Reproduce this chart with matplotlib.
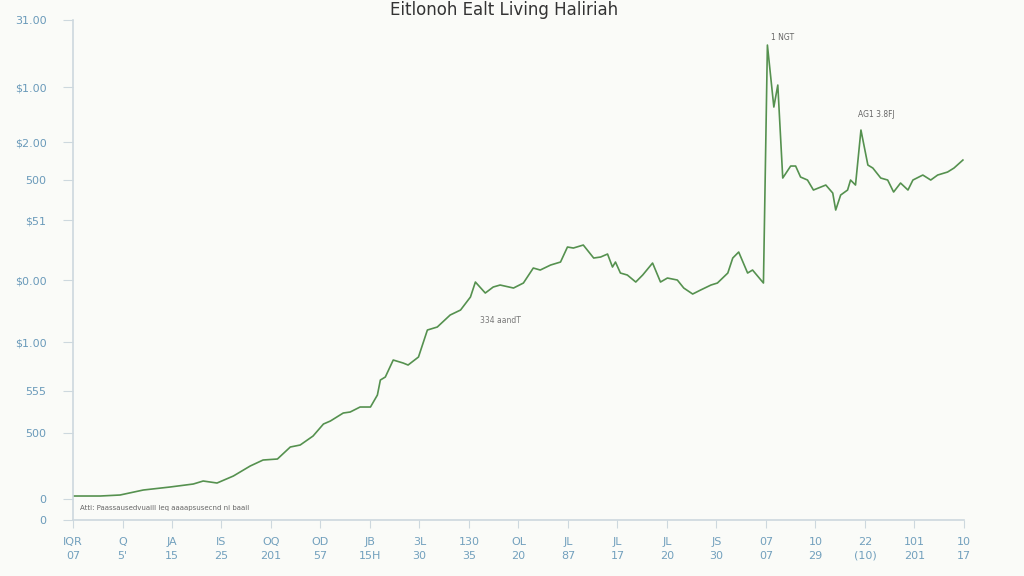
import matplotlib
matplotlib.use("Agg")
import matplotlib.pyplot as plt

# данные линии (x в делениях оси, y в условных единицах 0..500)
x = [0.00, 0.55, 0.95, 1.42, 1.96, 2.43, 2.63, 2.91, 3.24, 3.58,
     3.84, 4.13, 4.39, 4.59, 4.85, 5.06, 5.20, 5.46, 5.60, 5.80,
     6.01, 6.15, 6.21, 6.31, 6.47, 6.67, 6.77, 6.98, 7.16, 7.36,
     7.62, 7.83, 8.03, 8.13, 8.33, 8.49, 8.63, 8.90, 9.10, 9.30,
     9.44, 9.65, 9.85, 9.99, 10.11, 10.31, 10.52, 10.66, 10.80, 10.90,
     10.96, 11.06, 11.20, 11.37, 11.51, 11.71, 11.87, 12.01, 12.21, 12.34,
     12.52, 12.68, 12.89, 13.02, 13.23, 13.33, 13.45, 13.63, 13.73, 13.95,
     14.03, 14.16, 14.24, 14.34, 14.50, 14.60, 14.70, 14.84, 14.96, 15.11,
     15.21, 15.35, 15.41, 15.51, 15.65, 15.71, 15.81, 15.92, 16.06, 16.16,
     16.32, 16.46, 16.58, 16.72, 16.87, 16.97, 17.17, 17.33, 17.47, 17.67,
     17.80, 17.98]
y = [24, 24, 25, 30, 33, 36, 39, 37, 44, 54,
     60, 61, 73, 75, 84, 96, 99, 107, 108, 113,
     113, 125, 140, 143, 160, 157, 155, 163, 190, 193,
     205, 210, 223, 238, 227, 233, 235, 232, 237, 252,
     250, 255, 258, 273, 272, 275, 262, 263, 266, 253,
     258, 247, 245, 238, 245, 257, 238, 242, 240, 232,
     226, 230, 235, 237, 247, 262, 268, 247, 250, 237,
     475, 413, 435, 342, 354, 354, 343, 340, 330, 333,
     335, 327, 310, 325, 330, 340, 335, 390, 355, 352,
     342, 340, 328, 337, 330, 340, 345, 340, 345, 348,
     352, 360]

# подписи осей
y_ticks = [500, 433, 378, 340, 300, 240, 178, 129, 87, 21, 0]
y_labels = ['31.00', '$1.00', '$2.00', '500', '$51', '$0.00', '$1.00', '555', '500', '0', '0']
x_top = ['IQR', 'Q', 'JA', 'IS', 'OQ', 'OD', 'JB', '3L', '130', 'OL',
         'JL', 'JL', 'JL', 'JS', '07', '10', '22', '101', '10']
x_bottom = ['07', "5'", '15', '25', '201', '57', '15H', '30', '35', '20',
            '87', '17', '20', '30', '07', '29', '(10)', '201', '17']

bg = '#fafbf8'
fig = plt.figure(figsize=(10.24, 5.76), dpi=100, facecolor=bg)
ax = fig.add_axes([0.0713, 0.0972, 0.870, 0.868], facecolor=bg)

ax.plot(x, y, color='#55914f', linewidth=1.2)

ax.set_xlim(0, 18)
ax.set_ylim(0, 500)

ax.set_yticks(y_ticks)
ax.set_yticklabels(y_labels)
ax.set_xticks(range(len(x_top)))
ax.set_xticklabels([a + '\n' + b for a, b in zip(x_top, x_bottom)], linespacing=1.5)

for s in ['top', 'right']:
    ax.spines[s].set_visible(False)
for s in ['left', 'bottom']:
    ax.spines[s].set_color('#cdd8de')
    ax.spines[s].set_linewidth(1.2)

ax.tick_params(axis='y', colors='#cdd8de', labelcolor='#6a9aba', length=7, pad=12, labelsize=8)
ax.tick_params(axis='x', colors='#cdd8de', labelcolor='#72a0bd', length=6, pad=6, labelsize=8)

# подписи на графике
ax.text(14.10, 480, '1 NGT', fontsize=5.5, color='#666666')
ax.text(15.87, 403, 'AG1 3.8FJ', fontsize=5.5, color='#666666')
ax.text(8.23, 197, '334 aandT', fontsize=5.5, color='#777777')
ax.text(0.14, 10, 'Atti: Paassausedvuaill leq aaaapsusecnd ni baail', fontsize=5, color='#666666')

fig.text(0.492, 0.998, 'Eitlonoh Ealt Living Haliriah', ha='center', va='top',
         fontsize=12, color='#333333')

plt.savefig('out.png', dpi=100, facecolor=bg)
